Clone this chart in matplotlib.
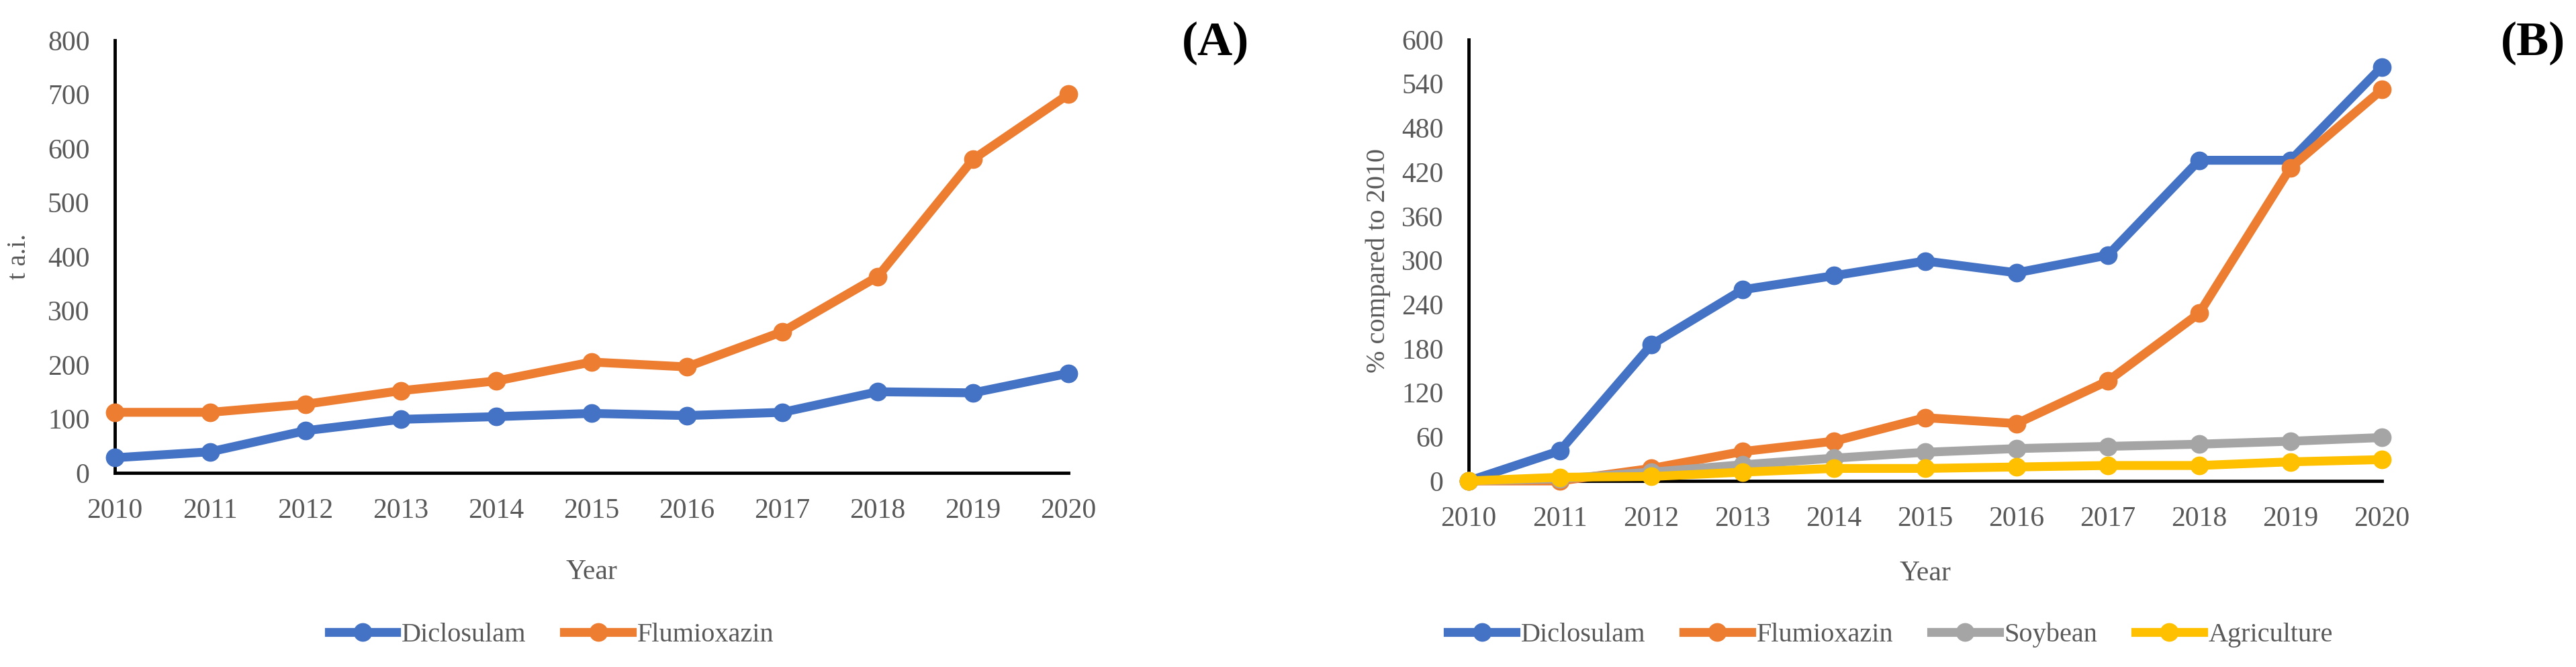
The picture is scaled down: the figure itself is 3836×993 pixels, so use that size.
import matplotlib
matplotlib.use("Agg")
import matplotlib.pyplot as plt

plt.rcParams['font.family'] = ['Liberation Serif', 'DejaVu Serif']

# Data for panel A (t a.i.)
years = [2010, 2011, 2012, 2013, 2014, 2015, 2016, 2017, 2018, 2019, 2020]
dic_tai = [28, 39, 78, 99, 104, 110, 106, 112, 150, 148, 184]
flu_tai = [112, 112, 127, 152, 170, 205, 196, 261, 363, 580, 700]

# Data for panel B (% compared to 2010)
dic_pct = [0, 41, 185, 260, 279, 299, 283, 307, 436, 436, 563]
flu_pct = [0, 0, 17, 40, 54, 86, 78, 136, 228, 426, 532]
soy_pct = [0, 3, 12, 22, 31, 39, 44, 47, 50, 54, 59]
agr_pct = [0, 5, 6, 12, 17, 17, 19, 21, 21, 26, 29]

blue = '#4472C4'
orange = '#ED7D31'
gray = '#A5A5A5'
yellow = '#FFC000'
txt = '#595959'

fig = plt.figure(figsize=(38.37, 9.93), dpi=100)
axA = fig.add_axes([0.04457, 0.29104, 0.37008, 0.64854])
axB = fig.add_axes([0.56998, 0.27895, 0.35444, 0.66163])

line_kw = dict(lw=9.5, marker='o', markersize=19, clip_on=False, zorder=3)


def style(ax, yticks):
    for s in ['top', 'right']:
        ax.spines[s].set_visible(False)
    for s in ['left', 'bottom']:
        ax.spines[s].set_linewidth(3.5)
        ax.spines[s].set_color('black')
        ax.spines[s].set_zorder(2)
    ax.set_xlim(years[0], years[-1])
    ax.set_xticks(years)
    ax.set_yticks(yticks)
    ax.set_ylim(yticks[0], yticks[-1])
    ax.tick_params(length=0, labelsize=30, labelcolor=txt, pad=27)


# --- panel A ---
lA1, = axA.plot(years, dic_tai, color=blue, label='Diclosulam', **line_kw)
lA2, = axA.plot(years, flu_tai, color=orange, label='Flumioxazin', **line_kw)
style(axA, list(range(0, 801, 100)))
axA.set_ylabel('t a.i.', fontsize=28, color=txt)
axA.yaxis.set_label_coords(-0.0873, 0.5)
axA.set_xlabel('Year', fontsize=30, color=txt)
axA.xaxis.set_label_coords(0.5, -0.199)

# --- panel B ---
lB1, = axB.plot(years, dic_pct, color=blue, label='Diclosulam', **line_kw)
lB2, = axB.plot(years, flu_pct, color=orange, label='Flumioxazin', **line_kw)
lB3, = axB.plot(years, soy_pct, color=gray, label='Soybean', **line_kw)
lB4, = axB.plot(years, agr_pct, color=yellow, label='Agriculture', **line_kw)
style(axB, list(range(0, 601, 60)))
axB.set_ylabel('% compared to 2010', fontsize=29, color=txt)
axB.yaxis.set_label_coords(-0.0853, 0.5)
axB.set_xlabel('Year', fontsize=30, color=txt)
axB.xaxis.set_label_coords(0.5, -0.181)

leg_kw = dict(loc='center', ncol=4, frameon=False, fontsize=29,
              handlelength=2.5, handletextpad=0.2, columnspacing=1.4,
              labelcolor=txt)
fig.legend(handles=[lA1, lA2], bbox_to_anchor=(0.214, 0.0483), **leg_kw)
fig.legend(handles=[lB1, lB2, lB3, lB4], bbox_to_anchor=(0.7337, 0.0483), **leg_kw)

# panel letters
fig.text(0.4717, 0.9355, '(A)', fontsize=52, fontweight='bold', ha='center', va='center')
fig.text(0.9831, 0.9355, '(B)', fontsize=52, fontweight='bold', ha='center', va='center')

fig.savefig('out.png', dpi=100)
